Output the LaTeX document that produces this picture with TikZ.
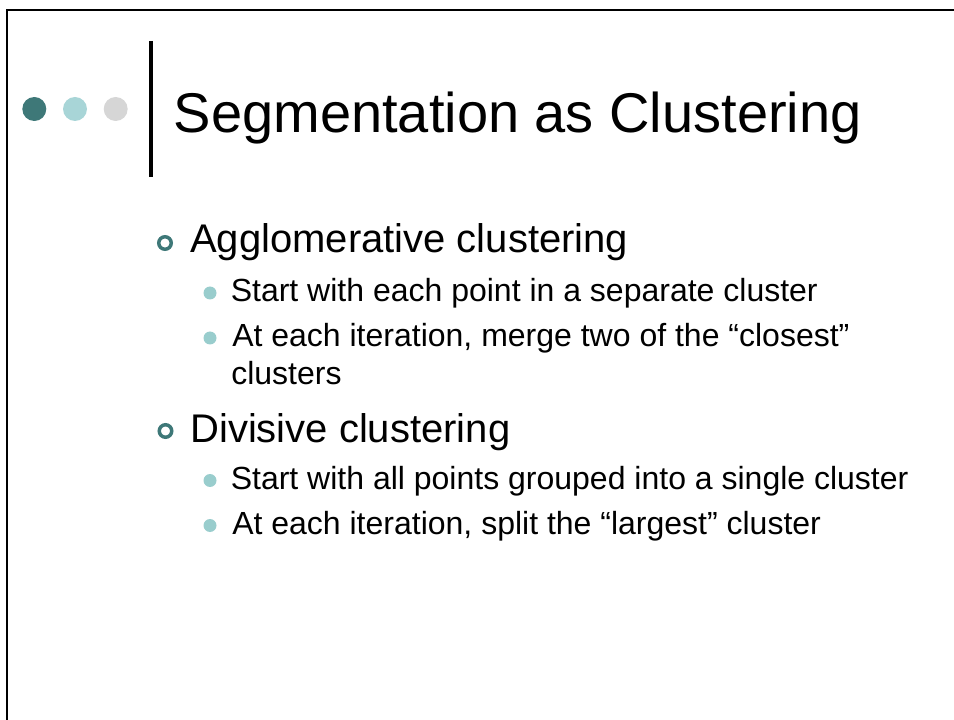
\documentclass[tikz,border=0pt]{standalone}
\usepackage{fontspec}
\setmainfont{Liberation Sans}
\definecolor{darkteal}{HTML}{3E7878}
\definecolor{lightteal}{HTML}{A8D5D7}
\definecolor{lightgrey}{HTML}{D6D6D6}
\definecolor{bulletteal}{HTML}{99CDCD}
\tikzset{
  hdot/.style={circle, inner sep=0pt, minimum size=18pt},
  titletext/.style={anchor=base west, inner sep=0pt, font=\fontsize{42}{50}\selectfont},
  lvlone/.style={anchor=base west, inner sep=0pt, font=\fontsize{30}{36}\selectfont},
  lvltwo/.style={anchor=base west, inner sep=0pt, font=\fontsize{24}{29}\selectfont},
  ringbullet/.style={circle, draw=darkteal, line width=2.6pt, inner sep=0pt, minimum size=9.4pt},
  discbullet/.style={circle, fill=bulletteal, inner sep=0pt, minimum size=9.75pt},
}
\begin{document}
\begin{tikzpicture}[x=0.75pt,y=-0.75pt]
\useasboundingbox (0,0) rectangle (954,720);
% frame (top and left edges)
\coordinate (fbl) at (7,720);
\coordinate (ftl) at (7,10);
\coordinate (ftr) at (954,10);
\draw[line width=1.5pt] (fbl) -- (ftl) -- (ftr);
% header dots
\node[hdot, fill=darkteal] (d1) at (34.3,109) {};
\node[hdot, fill=lightteal] (d2) at (75,109) {};
\node[hdot, fill=lightgrey] (d3) at (115.7,109) {};
% vertical bar
\coordinate (bt) at (150.5,41);
\coordinate (bb) at (150.5,177);
\draw[line width=3pt] (bt) -- (bb);
% title
\node[titletext] (title) at (173.5,133) {Segmentation as Clustering};
% level 1: Agglomerative
\node[ringbullet] (r1) at (165,243) {};
\node[lvlone] (l1) at (190,253) {Agglomerative clustering};
\node[discbullet] (b1) at (210,293) {};
\node[lvltwo] (t1) at (230.5,301.5) {Start with each point in a separate cluster};
\node[discbullet] (b2) at (210,338) {};
\node[lvltwo] (t2) at (232,346.5) {At each iteration, merge two of the “closest”};
\node[lvltwo] (t2b) at (231,384.5) {clusters};
% level 1: Divisive
\node[ringbullet] (r2) at (165.5,431) {};
\node[lvlone] (l2) at (190,443) {Divisive clustering};
\node[discbullet] (b3) at (210,480.5) {};
\node[lvltwo] (t3) at (230.5,489.5) {Start with all points grouped into a single cluster};
\node[discbullet] (b4) at (210,525.5) {};
\node[lvltwo] (t4) at (232,534) {At each iteration, split the “largest” cluster};
\end{tikzpicture}
\end{document}
